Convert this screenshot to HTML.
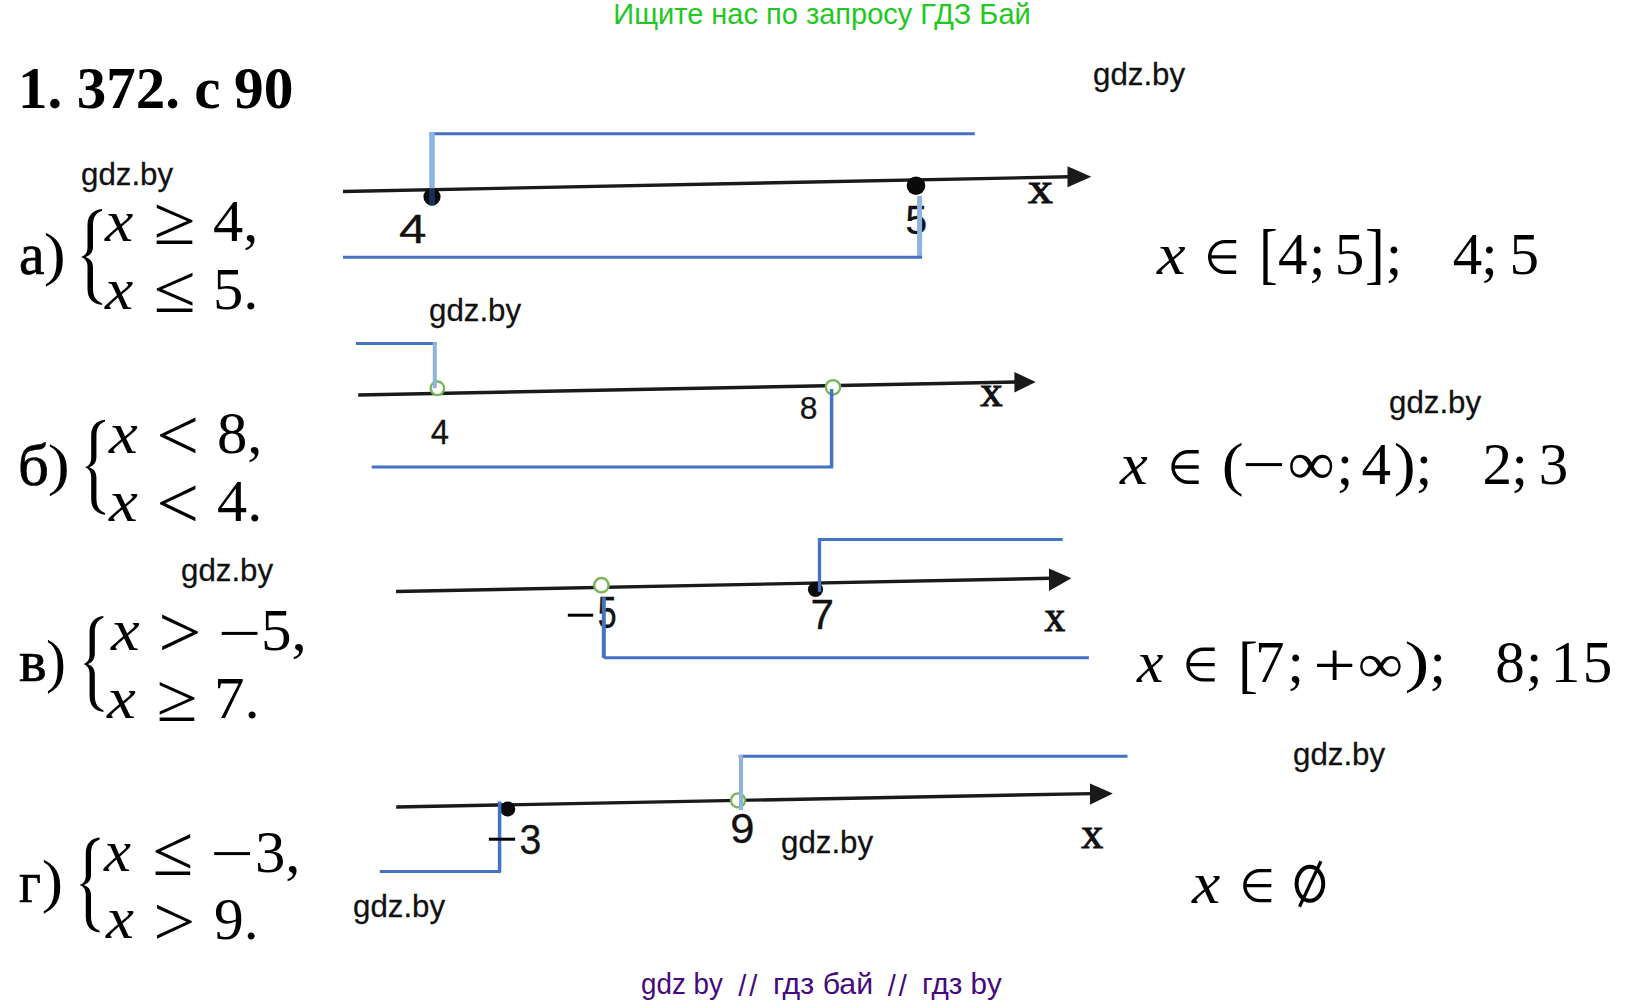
<!DOCTYPE html>
<html><head><meta charset="utf-8"><style>
html,body{margin:0;padding:0;background:#fff;width:1647px;height:1004px;overflow:hidden}
body>div{position:absolute;white-space:pre;line-height:1;color:#000}
svg{position:absolute;left:0;top:0}
</style></head><body>
<div style="left:613.30px;top:-0.40px;font-family:'Liberation Sans',sans-serif;font-size:29px;color:#22c822;">Ищите нас по запросу ГДЗ Бай</div>
<div style="left:641.30px;top:970.20px;font-family:'Liberation Sans',sans-serif;font-size:29px;color:#440a7e;transform:scale(0.9583,1.0000);transform-origin:1px 24.00px;">gdz by</div>
<div style="left:738.20px;top:971.10px;font-family:'Liberation Sans',sans-serif;font-size:29px;letter-spacing:3px;color:#440a7e;transform:scale(1.0000,1.0409);transform-origin:0px 2.00px;">//</div>
<div style="left:772.50px;top:970.20px;font-family:'Liberation Sans',sans-serif;font-size:29px;color:#440a7e;transform:scale(1.0457,1.0000);transform-origin:2px 24.00px;">гдз бай</div>
<div style="left:887.70px;top:971.10px;font-family:'Liberation Sans',sans-serif;font-size:29px;letter-spacing:3px;color:#440a7e;transform:scale(1.0000,1.0409);transform-origin:0px 2.00px;">//</div>
<div style="left:921.50px;top:970.20px;font-family:'Liberation Sans',sans-serif;font-size:29px;color:#440a7e;transform:scale(1.0224,1.0000);transform-origin:2px 24.00px;">гдз by</div>
<div style="left:17.90px;top:59.30px;font-family:'Liberation Serif',serif;font-size:59px;font-weight:700;">1.</div>
<div style="left:76.70px;top:59.30px;font-family:'Liberation Serif',serif;font-size:59px;font-weight:700;">372.</div>
<div style="left:194.20px;top:59.30px;font-family:'Liberation Serif',serif;font-size:59px;font-weight:700;">с</div>
<div style="left:234.00px;top:59.30px;font-family:'Liberation Serif',serif;font-size:59px;font-weight:700;transform:scale(1.0073,1.0000);transform-origin:2px 49.00px;">90</div>
<div style="left:1093.20px;top:59.00px;font-family:'Liberation Sans',sans-serif;font-size:31.5px;color:#111;transform:scale(0.9924,1.0100);transform-origin:1px 3.00px;-webkit-text-stroke:0.25px #111;">gdz.by</div>
<div style="left:81.20px;top:159.00px;font-family:'Liberation Sans',sans-serif;font-size:31.5px;color:#111;transform:scale(0.9924,1.0100);transform-origin:1px 3.00px;-webkit-text-stroke:0.25px #111;">gdz.by</div>
<div style="left:429.20px;top:295.00px;font-family:'Liberation Sans',sans-serif;font-size:31.5px;color:#111;transform:scale(0.9924,1.0100);transform-origin:1px 3.00px;-webkit-text-stroke:0.25px #111;">gdz.by</div>
<div style="left:1389.20px;top:387.20px;font-family:'Liberation Sans',sans-serif;font-size:31.5px;color:#111;transform:scale(0.9924,1.0100);transform-origin:1px 3.00px;-webkit-text-stroke:0.25px #111;">gdz.by</div>
<div style="left:181.20px;top:555.00px;font-family:'Liberation Sans',sans-serif;font-size:31.5px;color:#111;transform:scale(0.9924,1.0100);transform-origin:1px 3.00px;-webkit-text-stroke:0.25px #111;">gdz.by</div>
<div style="left:1293.20px;top:739.00px;font-family:'Liberation Sans',sans-serif;font-size:31.5px;color:#111;transform:scale(0.9924,1.0100);transform-origin:1px 3.00px;-webkit-text-stroke:0.25px #111;">gdz.by</div>
<div style="left:781.20px;top:827.20px;font-family:'Liberation Sans',sans-serif;font-size:31.5px;color:#111;transform:scale(0.9924,1.0100);transform-origin:1px 3.00px;-webkit-text-stroke:0.25px #111;">gdz.by</div>
<div style="left:353.20px;top:891.00px;font-family:'Liberation Sans',sans-serif;font-size:31.5px;color:#111;transform:scale(0.9924,1.0100);transform-origin:1px 3.00px;-webkit-text-stroke:0.25px #111;">gdz.by</div>
<div style="left:19.00px;top:224.00px;font-family:'Liberation Serif',serif;font-size:60px;transform:scale(0.9583,1.0000);transform-origin:2px 50.00px;-webkit-text-stroke:0.7px #000;">а</div>
<div style="left:43.50px;top:223.90px;font-family:'Liberation Serif',serif;font-size:60px;transform:scale(1.1000,0.9981);transform-origin:2px 9.00px;">)</div>
<div style="left:105.20px;top:190.80px;font-family:'Liberation Serif',serif;font-size:60px;font-style:italic;transform:scale(1.0593,1.0000);transform-origin:-1px 50.00px;">x</div>
<div style="left:154.00px;top:188.80px;font-family:'Liberation Serif',serif;font-size:60px;transform:scale(1.2786,1.1500);transform-origin:2px 16.00px;">≥</div>
<div style="left:213.40px;top:191.30px;font-family:'Liberation Serif',serif;font-size:60px;transform:scale(1.0075,1.0000);transform-origin:1px 50.00px;">4,</div>
<div style="left:105.20px;top:258.70px;font-family:'Liberation Serif',serif;font-size:60px;font-style:italic;transform:scale(1.0593,1.0000);transform-origin:-1px 50.00px;">x</div>
<div style="left:154.00px;top:257.10px;font-family:'Liberation Serif',serif;font-size:60px;transform:scale(1.2786,1.1382);transform-origin:2px 16.00px;">≤</div>
<div style="left:213.00px;top:259.00px;font-family:'Liberation Serif',serif;font-size:60px;transform:scale(1.0105,1.0000);transform-origin:3px 50.00px;">5.</div>
<div style="left:18.00px;top:434.50px;font-family:'Liberation Serif',serif;font-size:60px;transform:scale(1.0120,1.0000);transform-origin:3px 50.00px;-webkit-text-stroke:0.7px #000;">б</div>
<div style="left:47.50px;top:435.20px;font-family:'Liberation Serif',serif;font-size:60px;transform:scale(1.1000,0.9679);transform-origin:2px 9.00px;">)</div>
<div style="left:108.90px;top:402.90px;font-family:'Liberation Serif',serif;font-size:60px;font-style:italic;transform:scale(1.0815,1.0000);transform-origin:-1px 50.00px;">x</div>
<div style="left:157.00px;top:402.20px;font-family:'Liberation Serif',serif;font-size:60px;transform:scale(1.2679,1.2393);transform-origin:3px 16.00px;">&lt;</div>
<div style="left:217.20px;top:402.90px;font-family:'Liberation Serif',serif;font-size:60px;transform:scale(1.0103,1.0000);transform-origin:2px 50.00px;">8,</div>
<div style="left:108.90px;top:470.80px;font-family:'Liberation Serif',serif;font-size:60px;font-style:italic;transform:scale(1.0815,1.0000);transform-origin:-1px 50.00px;">x</div>
<div style="left:157.00px;top:470.00px;font-family:'Liberation Serif',serif;font-size:60px;transform:scale(1.2679,1.2429);transform-origin:3px 16.00px;">&lt;</div>
<div style="left:217.40px;top:470.80px;font-family:'Liberation Serif',serif;font-size:60px;transform:scale(1.0050,1.0000);transform-origin:1px 50.00px;">4.</div>
<div style="left:18.90px;top:630.90px;font-family:'Liberation Serif',serif;font-size:60px;transform:scale(0.9760,1.0000);transform-origin:1px 50.00px;-webkit-text-stroke:0.7px #000;">в</div>
<div style="left:46.00px;top:631.50px;font-family:'Liberation Serif',serif;font-size:60px;transform:scale(1.0000,0.9755);transform-origin:2px 9.00px;">)</div>
<div style="left:110.80px;top:599.90px;font-family:'Liberation Serif',serif;font-size:60px;font-style:italic;transform:scale(1.0778,1.0000);transform-origin:-1px 50.00px;">x</div>
<div style="left:158.50px;top:599.00px;font-family:'Liberation Serif',serif;font-size:60px;transform:scale(1.2786,1.2464);transform-origin:3px 16.00px;">&gt;</div>
<div style="left:261.00px;top:599.90px;font-family:'Liberation Serif',serif;font-size:60px;transform:scale(1.0184,1.0000);transform-origin:3px 50.00px;">5,</div>
<div style="left:107.00px;top:667.60px;font-family:'Liberation Serif',serif;font-size:60px;font-style:italic;transform:scale(1.0815,1.0000);transform-origin:-1px 50.00px;">x</div>
<div style="left:156.70px;top:665.90px;font-family:'Liberation Serif',serif;font-size:60px;transform:scale(1.2429,1.1353);transform-origin:2px 16.00px;">≥</div>
<div style="left:214.00px;top:667.60px;font-family:'Liberation Serif',serif;font-size:60px;transform:scale(1.0162,1.0000);transform-origin:4px 50.00px;">7.</div>
<div style="left:19.40px;top:851.60px;font-family:'Liberation Serif',serif;font-size:60px;transform:scale(0.8955,1.0000);transform-origin:1px 50.00px;-webkit-text-stroke:0.7px #000;">г</div>
<div style="left:41.90px;top:852.10px;font-family:'Liberation Serif',serif;font-size:60px;transform:scale(1.0667,0.9774);transform-origin:2px 9.00px;">)</div>
<div style="left:104.20px;top:820.50px;font-family:'Liberation Serif',serif;font-size:60px;font-style:italic;transform:scale(1.0111,1.0000);transform-origin:-1px 50.00px;">x</div>
<div style="left:153.00px;top:817.80px;font-family:'Liberation Serif',serif;font-size:60px;transform:scale(1.2393,1.1912);transform-origin:2px 16.00px;">≤</div>
<div style="left:254.50px;top:821.50px;font-family:'Liberation Serif',serif;font-size:60px;transform:scale(1.0132,1.0000);transform-origin:3px 50.00px;">3,</div>
<div style="left:106.00px;top:888.30px;font-family:'Liberation Serif',serif;font-size:60px;font-style:italic;transform:scale(1.0481,1.0000);transform-origin:-1px 50.00px;">x</div>
<div style="left:153.80px;top:889.30px;font-family:'Liberation Serif',serif;font-size:60px;transform:scale(1.2429,1.1786);transform-origin:3px 16.00px;">&gt;</div>
<div style="left:214.10px;top:888.50px;font-family:'Liberation Serif',serif;font-size:60px;transform:scale(0.9897,1.0000);transform-origin:2px 50.00px;">9.</div>
<div style="left:1157.00px;top:223.90px;font-family:'Liberation Serif',serif;font-size:60px;font-style:italic;transform:scale(1.0704,1.0000);transform-origin:-1px 50.00px;">x</div>
<div style="left:1258.90px;top:221.70px;font-family:'Liberation Serif',serif;font-size:59px;transform:scale(0.9357,1.1306);transform-origin:4px 8.00px;">[</div>
<div style="left:1278.00px;top:224.80px;font-family:'Liberation Serif',serif;font-size:59px;">4</div>
<div style="left:1309.00px;top:224.80px;font-family:'Liberation Serif',serif;font-size:59px;">;</div>
<div style="left:1334.70px;top:224.80px;font-family:'Liberation Serif',serif;font-size:59px;">5</div>
<div style="left:1365.00px;top:221.70px;font-family:'Liberation Serif',serif;font-size:59px;transform:scale(1.0077,1.1306);transform-origin:2px 8.00px;">]</div>
<div style="left:1385.70px;top:224.80px;font-family:'Liberation Serif',serif;font-size:59px;">;</div>
<div style="left:1452.70px;top:224.80px;font-family:'Liberation Serif',serif;font-size:59px;">4</div>
<div style="left:1481.30px;top:224.80px;font-family:'Liberation Serif',serif;font-size:59px;">;</div>
<div style="left:1509.40px;top:224.80px;font-family:'Liberation Serif',serif;font-size:59px;">5</div>
<div style="left:1119.80px;top:433.80px;font-family:'Liberation Serif',serif;font-size:60px;font-style:italic;transform:scale(1.0444,1.0000);transform-origin:-1px 50.00px;">x</div>
<div style="left:1221.50px;top:434.80px;font-family:'Liberation Serif',serif;font-size:59px;transform:scale(1.1133,1.0019);transform-origin:3px 8.00px;">(</div>
<div style="left:1287.70px;top:433.90px;font-family:'Liberation Serif',serif;font-size:59px;transform:scale(1.1184,1.0364);transform-origin:2px 21.00px;">∞</div>
<div style="left:1336.80px;top:434.80px;font-family:'Liberation Serif',serif;font-size:59px;">;</div>
<div style="left:1361.60px;top:434.80px;font-family:'Liberation Serif',serif;font-size:59px;">4</div>
<div style="left:1394.00px;top:434.80px;font-family:'Liberation Serif',serif;font-size:59px;transform:scale(1.1133,1.0019);transform-origin:2px 8.00px;">)</div>
<div style="left:1415.80px;top:434.80px;font-family:'Liberation Serif',serif;font-size:59px;">;</div>
<div style="left:1482.50px;top:434.80px;font-family:'Liberation Serif',serif;font-size:59px;">2</div>
<div style="left:1511.40px;top:434.80px;font-family:'Liberation Serif',serif;font-size:59px;">;</div>
<div style="left:1538.70px;top:434.80px;font-family:'Liberation Serif',serif;font-size:59px;">3</div>
<div style="left:1136.80px;top:631.60px;font-family:'Liberation Serif',serif;font-size:60px;font-style:italic;transform:scale(0.9926,1.0000);transform-origin:-1px 50.00px;">x</div>
<div style="left:1237.60px;top:632.50px;font-family:'Liberation Serif',serif;font-size:59px;transform:scale(1.0143,1.0633);transform-origin:4px 8.00px;">[</div>
<div style="left:1254.90px;top:632.60px;font-family:'Liberation Serif',serif;font-size:59px;">7</div>
<div style="left:1287.50px;top:632.60px;font-family:'Liberation Serif',serif;font-size:59px;">;</div>
<div style="left:1314.30px;top:635.00px;font-family:'Liberation Serif',serif;font-size:59px;transform:scale(1.2852,1.0897);transform-origin:3px 15.00px;">+</div>
<div style="left:1358.00px;top:635.30px;font-family:'Liberation Serif',serif;font-size:59px;transform:scale(1.0789,0.9318);transform-origin:2px 21.00px;">∞</div>
<div style="left:1405.30px;top:632.50px;font-family:'Liberation Serif',serif;font-size:59px;transform:scale(1.2667,0.9830);transform-origin:2px 8.00px;">)</div>
<div style="left:1429.60px;top:632.60px;font-family:'Liberation Serif',serif;font-size:59px;">;</div>
<div style="left:1495.30px;top:632.60px;font-family:'Liberation Serif',serif;font-size:59px;">8</div>
<div style="left:1526.00px;top:632.60px;font-family:'Liberation Serif',serif;font-size:59px;">;</div>
<div style="left:1550.70px;top:632.60px;font-family:'Liberation Serif',serif;font-size:59px;">1</div>
<div style="left:1582.70px;top:632.60px;font-family:'Liberation Serif',serif;font-size:59px;">5</div>
<div style="left:1192.20px;top:852.90px;font-family:'Liberation Serif',serif;font-size:60px;font-style:italic;transform:scale(1.0593,1.0000);transform-origin:-1px 50.00px;">x</div>
<div style="left:399.70px;top:210.90px;font-family:'Liberation Sans',sans-serif;font-size:26px;color:#111;transform:scale(1.9000,1.5778);transform-origin:1px 4.00px;-webkit-text-stroke:0.2px #111;">4</div>
<div style="left:905.90px;top:201.90px;font-family:'Liberation Sans',sans-serif;font-size:26px;color:#111;transform:scale(1.4923,1.5778);transform-origin:1px 4.00px;-webkit-text-stroke:0.2px #111;">5</div>
<div style="left:1029.00px;top:173.00px;font-family:'Liberation Serif',serif;font-size:26px;color:#111;transform:scale(1.9091,1.7417);transform-origin:1px 9.00px;-webkit-text-stroke:0.6px #111;">x</div>
<div style="left:431.20px;top:414.90px;font-family:'Liberation Sans',sans-serif;font-size:26px;color:#111;transform:scale(1.2615,1.3722);transform-origin:1px 4.00px;-webkit-text-stroke:0.2px #111;">4</div>
<div style="left:800.30px;top:392.60px;font-family:'Liberation Sans',sans-serif;font-size:26px;color:#111;transform:scale(1.2250,1.2278);transform-origin:1px 4.00px;-webkit-text-stroke:0.2px #111;">8</div>
<div style="left:980.60px;top:376.90px;font-family:'Liberation Serif',serif;font-size:26px;color:#111;transform:scale(1.7182,1.7083);transform-origin:1px 9.00px;-webkit-text-stroke:0.6px #111;">x</div>
<div style="left:598.00px;top:593.20px;font-family:'Liberation Sans',sans-serif;font-size:26px;color:#111;transform:scale(1.3077,1.7333);transform-origin:1px 4.00px;-webkit-text-stroke:0.2px #111;">5</div>
<div style="left:811.00px;top:595.70px;font-family:'Liberation Sans',sans-serif;font-size:26px;color:#111;transform:scale(1.6250,1.6167);transform-origin:1px 4.00px;-webkit-text-stroke:0.2px #111;">7</div>
<div style="left:1045.20px;top:602.30px;font-family:'Liberation Serif',serif;font-size:26px;color:#111;transform:scale(1.5909,1.7000);transform-origin:1px 9.00px;-webkit-text-stroke:0.6px #111;">x</div>
<div style="left:519.80px;top:819.60px;font-family:'Liberation Sans',sans-serif;font-size:26px;color:#111;transform:scale(1.5083,1.6389);transform-origin:1px 4.00px;-webkit-text-stroke:0.2px #111;">3</div>
<div style="left:731.00px;top:810.20px;font-family:'Liberation Sans',sans-serif;font-size:26px;color:#111;transform:scale(1.6750,1.6278);transform-origin:1px 4.00px;-webkit-text-stroke:0.2px #111;">9</div>
<div style="left:1082.40px;top:818.50px;font-family:'Liberation Serif',serif;font-size:26px;color:#111;transform:scale(1.6909,1.6750);transform-origin:1px 9.00px;-webkit-text-stroke:0.6px #111;">x</div>
<svg width="1647" height="1004"><line x1="343" y1="191.5" x2="1069.5" y2="176.8" stroke="#1a1a1a" stroke-width="3.4"/><polygon points="1091.3,176.8 1067.5,166.3 1067.5,187.2" fill="#1a1a1a"/><line x1="429.5" y1="133.7" x2="974.8" y2="133.7" stroke="#4472c4" stroke-width="3"/><circle cx="432" cy="196.8" r="8.6" fill="#0a0a0a"/><circle cx="916" cy="185.7" r="9.3" fill="#0a0a0a"/><line x1="432" y1="132.3" x2="432" y2="188.5" stroke="#8fb3e0" stroke-width="5.5"/><rect x="429.2" y="188.5" width="5.6" height="17" fill="#1d2f57"/><line x1="919.6" y1="196" x2="919.6" y2="258.2" stroke="#8fb3e0" stroke-width="5"/><line x1="343" y1="257.2" x2="922" y2="257.2" stroke="#4472c4" stroke-width="3"/><line x1="358.2" y1="395" x2="1016.4" y2="382" stroke="#1a1a1a" stroke-width="3.4"/><polygon points="1035.7,382 1014.4,372 1014.4,392.5" fill="#1a1a1a"/><line x1="356" y1="343.5" x2="436.7" y2="343.5" stroke="#4472c4" stroke-width="3"/><line x1="371.7" y1="467" x2="833" y2="467" stroke="#4472c4" stroke-width="3"/><circle cx="437.4" cy="388.3" r="6.8" fill="#fff" stroke="#7ab55a" stroke-width="2.4"/><circle cx="833" cy="387.3" r="7.2" fill="#fff" stroke="#7ab55a" stroke-width="2.4"/><line x1="434.8" y1="342" x2="434.8" y2="388" stroke="#8fb3e0" stroke-width="4"/><line x1="831.6" y1="389" x2="831.6" y2="467.9" stroke="#4472c4" stroke-width="3.5"/><line x1="396.1" y1="591.5" x2="1051" y2="578.3" stroke="#1a1a1a" stroke-width="3.4"/><polygon points="1071.4,578.3 1049,568.6 1049,590.9" fill="#1a1a1a"/><line x1="817.9" y1="539.5" x2="1062.7" y2="539.5" stroke="#4472c4" stroke-width="3"/><line x1="603.8" y1="657.8" x2="1088.9" y2="657.8" stroke="#4472c4" stroke-width="3"/><circle cx="601.4" cy="585.2" r="7.2" fill="#fff" stroke="#7ab55a" stroke-width="2.4"/><circle cx="815.5" cy="589.5" r="7.6" fill="#0a0a0a"/><line x1="819.5" y1="538" x2="819.5" y2="591.9" stroke="#4472c4" stroke-width="3.3"/><line x1="603.8" y1="597.2" x2="603.8" y2="657.9" stroke="#4472c4" stroke-width="4"/><rect x="567.8" y="613.7" width="25.40000000000009" height="3" fill="#000"/><line x1="396.2" y1="807" x2="1092" y2="793.6" stroke="#1a1a1a" stroke-width="3.4"/><polygon points="1112.8,793.6 1090,783.4 1090,804.8" fill="#1a1a1a"/><line x1="738.7" y1="756.2" x2="1127.5" y2="756.2" stroke="#4472c4" stroke-width="3"/><line x1="379.8" y1="871.4" x2="501" y2="871.4" stroke="#4472c4" stroke-width="3"/><circle cx="507.7" cy="809" r="7.6" fill="#0a0a0a"/><circle cx="738" cy="800.4" r="7" fill="#fff" stroke="#7ab55a" stroke-width="2.4"/><line x1="741" y1="755" x2="741" y2="810.1" stroke="#8fb3e0" stroke-width="4"/><line x1="499.6" y1="801.5" x2="499.6" y2="872" stroke="#4472c4" stroke-width="3.5"/><rect x="488.9" y="837.7" width="26.200000000000045" height="3" fill="#000"/><path transform="translate(81,209) scale(1.0000,1.0105)" d="M21,0 C12,1 6.5,6 6.5,16 L6.5,38 C6.5,44 3,46.5 0,47.5 C3,48.5 6.5,51 6.5,57 L6.5,79 C6.5,89 12,94 21,95 L21,93.2 C15,91 12,87 12,79 L12,58 C12,52 9,49 4.5,47.5 C9,46 12,43 12,37 L12,16 C12,8 15,4 21,1.8 Z" fill="#000"/><path transform="translate(85,419.7) scale(0.9524,1.0000)" d="M21,0 C12,1 6.5,6 6.5,16 L6.5,38 C6.5,44 3,46.5 0,47.5 C3,48.5 6.5,51 6.5,57 L6.5,79 C6.5,89 12,94 21,95 L21,93.2 C15,91 12,87 12,79 L12,58 C12,52 9,49 4.5,47.5 C9,46 12,43 12,37 L12,16 C12,8 15,4 21,1.8 Z" fill="#000"/><path transform="translate(83.4,616) scale(0.9524,1.0105)" d="M21,0 C12,1 6.5,6 6.5,16 L6.5,38 C6.5,44 3,46.5 0,47.5 C3,48.5 6.5,51 6.5,57 L6.5,79 C6.5,89 12,94 21,95 L21,93.2 C15,91 12,87 12,79 L12,58 C12,52 9,49 4.5,47.5 C9,46 12,43 12,37 L12,16 C12,8 15,4 21,1.8 Z" fill="#000"/><path transform="translate(79.6,837.6) scale(0.9524,1.0000)" d="M21,0 C12,1 6.5,6 6.5,16 L6.5,38 C6.5,44 3,46.5 0,47.5 C3,48.5 6.5,51 6.5,57 L6.5,79 C6.5,89 12,94 21,95 L21,93.2 C15,91 12,87 12,79 L12,58 C12,52 9,49 4.5,47.5 C9,46 12,43 12,37 L12,16 C12,8 15,4 21,1.8 Z" fill="#000"/><rect x="221.7" y="631.9" width="35.80000000000001" height="3" fill="#000"/><rect x="214.2" y="852.1" width="35.80000000000001" height="3" fill="#000"/><path d="M1236.2,241.6 L1225.0,241.6 A15.3,15.3 0 0 0 1225.0,272.2 L1236.2,272.2 M1209.7,256.9 L1236.2,256.9" fill="none" stroke="#000" stroke-width="3.4"/><path d="M1198.7,451.7 L1188.3,451.7 A15.3,15.3 0 0 0 1188.3,482.3 L1198.7,482.3 M1173.0,467.0 L1198.7,467.0" fill="none" stroke="#000" stroke-width="3.4"/><path d="M1214.7,649.3000000000001 L1203.3,649.3000000000001 A15.3,15.3 0 0 0 1203.3,679.9 L1214.7,679.9 M1188.0,664.6 L1214.7,664.6" fill="none" stroke="#000" stroke-width="3.4"/><path d="M1271.3,870.6 L1259.8,870.6 A15.0,15.0 0 0 0 1259.8,900.5999999999999 L1271.3,900.5999999999999 M1244.8,885.6 L1271.3,885.6" fill="none" stroke="#000" stroke-width="3.4"/><rect x="1245.7" y="463.1" width="36.399999999999864" height="3" fill="#000"/><ellipse cx="1309.9" cy="883.75" rx="13.3" ry="17.1" fill="none" stroke="#000" stroke-width="4"/><line x1="1320.9" y1="861.2" x2="1299.5" y2="906.8" stroke="#000" stroke-width="3.2"/></svg>
</body></html>
